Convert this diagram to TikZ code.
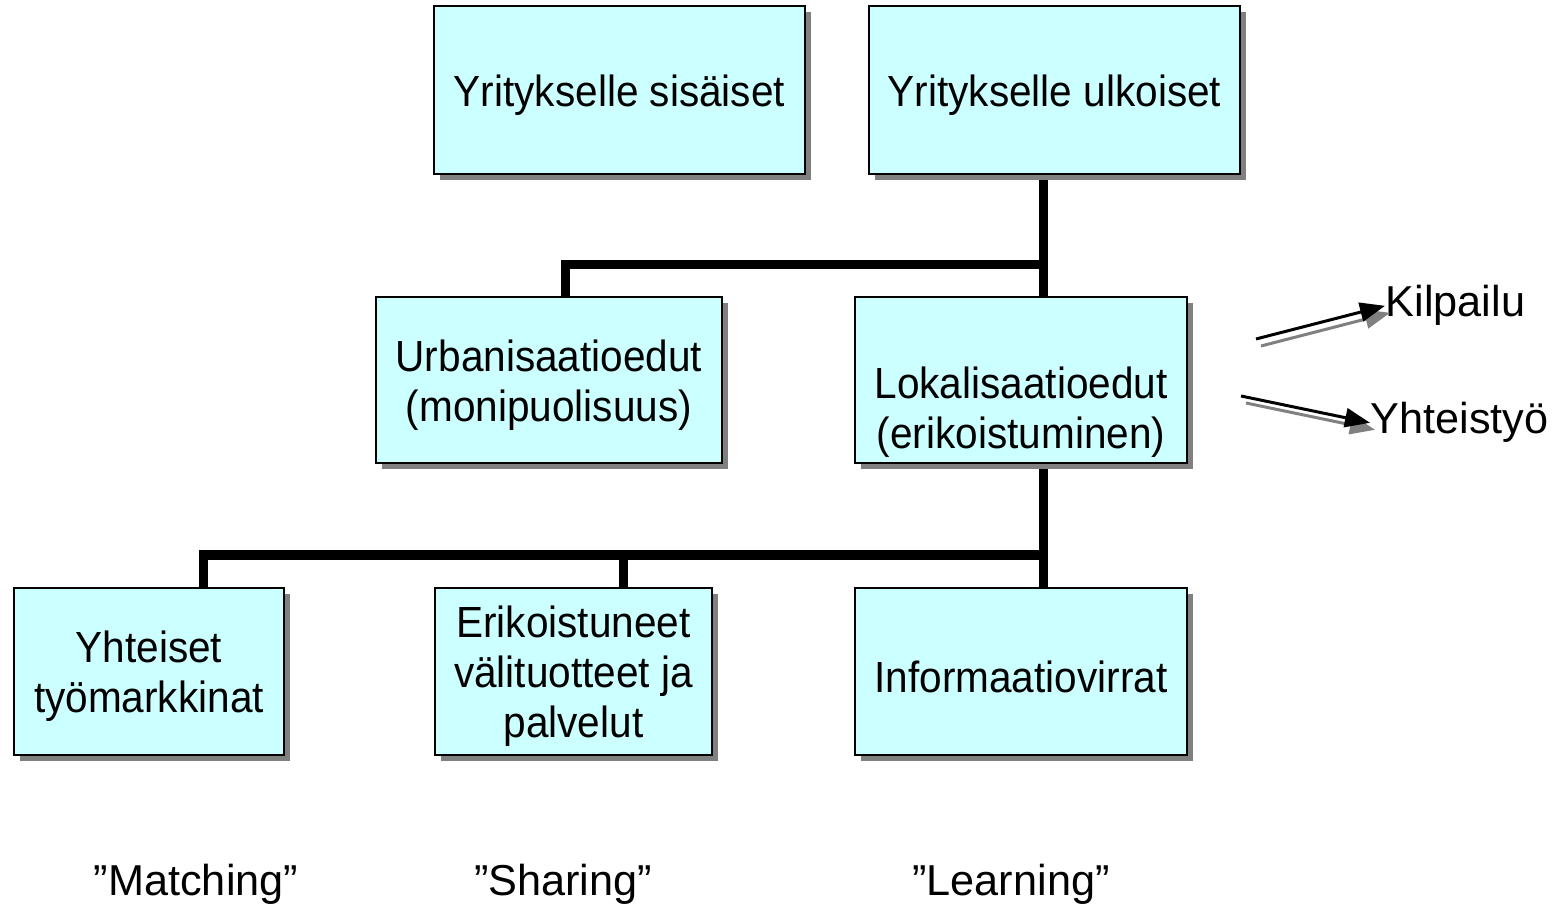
\documentclass[tikz,border=0pt]{standalone}
\usepackage{fontspec}
\setmainfont{Liberation Sans}
\newfontfamily\boxFamily[FakeStretch=0.93]{Liberation Sans}
\usetikzlibrary{positioning, shadows, arrows.meta, backgrounds}
\definecolor{boxColor}{RGB}{204,255,255}
\definecolor{shadowColor}{RGB}{128,128,128}
\newcommand{\diagramFont}{\fontsize{12.3}{14.2}\selectfont}
\newcommand{\boxFont}{\boxFamily\fontsize{12.4}{14.2}\selectfont}
\tikzstyle{diagram} = [x = 0.01cm, y = -0.01cm]
\tikzstyle{boxStyle} = [draw=black, fill=boxColor, line width=0.7pt, inner sep=0pt, drop shadow={shadow xshift=0.06cm, shadow yshift=-0.06cm, fill=shadowColor, opacity=1}]
\tikzstyle{boxText} = [align=center, inner sep=0pt, font=\boxFont]
\tikzstyle{linkStyle} = [line width=0.09cm, line join=miter, color=black]
\tikzstyle{sideLabel} = [anchor=base west, inner sep=0pt, font=\diagramFont]
\tikzstyle{bottomLabel} = [anchor=base, inner sep=0pt, font=\diagramFont]
\tikzstyle{sideArrow} = [line width=0.85pt, -{Triangle[length=0.25cm, width=0.19cm]}]
\tikzstyle{sideArrowShadow} = [sideArrow, color=shadowColor]
\newcommand{\diagramBox}[6][5]{
  \node [boxStyle, minimum width=#4, minimum height=#5] (#2) at (#3) {};
  \node [boxText, shift={(0,#1)}] (#2Text) at (#2) {#6};
}

\begin{document}
\begin{tikzpicture}[diagram]
            \useasboundingbox (0,0) rectangle (1564,907);

            \diagramBox{sisaiset}{619.5,90}{3.71cm}{1.68cm}{Yritykselle sisäiset}
            \diagramBox{ulkoiset}{1054.5,90}{3.71cm}{1.68cm}{Yritykselle ulkoiset}
            \diagramBox{urbanisaatio}{549,380}{3.46cm}{1.66cm}{Urbanisaatioedut\\(monipuolisuus)}
            \diagramBox[32]{lokalisaatio}{1021,380}{3.32cm}{1.66cm}{Lokalisaatioedut\\(erikoistuminen)}
            \diagramBox{tyomarkkinat}{149,671.5}{2.70cm}{1.67cm}{Yhteiset\\työmarkkinat}
            \diagramBox{palvelut}{573.5,671.5}{2.77cm}{1.67cm}{Erikoistuneet\\välituotteet ja\\palvelut}
            \diagramBox{informaatio}{1021,671.5}{3.32cm}{1.67cm}{Informaatiovirrat}

            \coordinate (upperJoint) at (1043,265);
            \coordinate (upperBend) at (565,265);
            \coordinate (lowerJoint) at (1043,555);
            \coordinate (lowerBend) at (203,555);
            \coordinate (lowerMiddle) at (623,555);
            \begin{pgfonlayer}{background}
              \draw [linkStyle] (ulkoiset.south -| upperJoint) -- (lokalisaatio.north -| upperJoint);
              \draw [linkStyle] (upperJoint) -- (upperBend) -- (urbanisaatio.north -| upperBend);
              \draw [linkStyle] (lokalisaatio.south -| lowerJoint) -- (informaatio.north -| lowerJoint);
              \draw [linkStyle] (lowerJoint) -- (lowerBend) -- (tyomarkkinat.north -| lowerBend);
              \draw [linkStyle] (lowerMiddle) -- (palvelut.north -| lowerMiddle);
            \end{pgfonlayer}

            \node [sideLabel] (kilpailu) at (1385,317) {Kilpailu};
            \node [sideLabel] (yhteistyo) at (1370,434) {Yhteistyö};
            \coordinate (kilpailuStart) at (1256,339);
            \coordinate (yhteistyoStart) at (1241,396);
            \draw [sideArrowShadow] ([shift={(5,7)}]kilpailuStart) -- ([shift={(5,7)}]kilpailu.west);
            \draw [sideArrow] (kilpailuStart) -- (kilpailu.west);
            \draw [sideArrowShadow] ([shift={(5,7)}]yhteistyoStart) -- ([shift={(5,7)}]yhteistyo.west);
            \draw [sideArrow] (yhteistyoStart) -- (yhteistyo.west);

            \node [bottomLabel] (matching) at (196,895) {”Matching”};
            \node [bottomLabel] (sharing) at (563,895) {”Sharing”};
            \node [bottomLabel] (learning) at (1011,895) {”Learning”};
          \end{tikzpicture}
\end{document}
